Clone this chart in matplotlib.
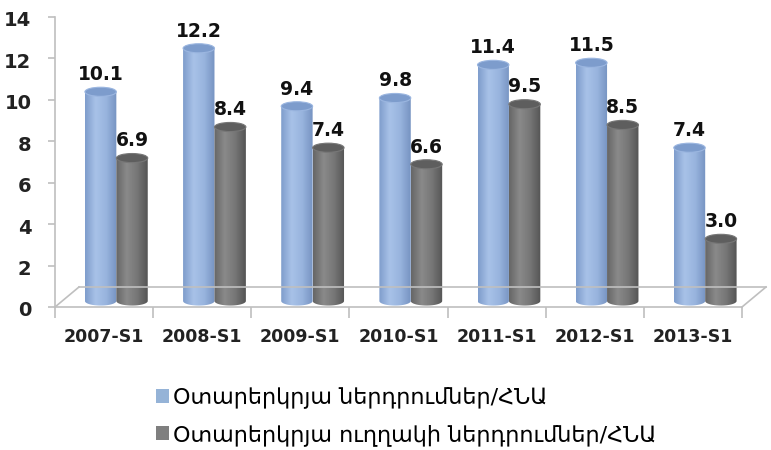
import numpy as np
import matplotlib.pyplot as plt
from matplotlib.colors import LinearSegmentedColormap
from matplotlib.patches import Ellipse, Polygon, Patch
from matplotlib.lines import Line2D
from matplotlib.transforms import ScaledTranslation

# data
periods = ['2007-S1', '2008-S1', '2009-S1', '2010-S1', '2011-S1', '2012-S1', '2013-S1']
fdi_total = [10.1, 12.2, 9.4, 9.8, 11.4, 11.5, 7.4]
fdi_direct = [6.9, 8.4, 7.4, 6.6, 9.5, 8.5, 3.0]
series_names = ['Օտարերկրյա ներդրումներ/ՀՆԱ', 'Օտարերկրյա ուղղակի ներդրումներ/ՀՆԱ']
yticks = [0, 2, 4, 6, 8, 10, 12, 14]

blue = '#95b3d7'
grey = '#7f7f7f'
blue_cmap = LinearSegmentedColormap.from_list('cyl_b', ['#7f9dcc', '#a8c2e8', '#98b4de', '#7794c2'])
grey_cmap = LinearSegmentedColormap.from_list('cyl_g', ['#666666', '#8a8a8a', '#767676', '#555555'])
line_col = '#bfbfbf'

fig = plt.figure(figsize=(7.71, 4.5), dpi=100)
ax = fig.add_axes([55/771, 143/450, 687/771, 290/450])
dpi_t = fig.dpi_scale_trans
# bars stand a little behind the front edge of the floor
lift = ScaledTranslation(0, 0.06, dpi_t)
bar_trans = ax.transData + lift

x = np.arange(len(periods))
w = 0.32
ry = 0.22  # half height of the cylinder caps, in data units

bars_b = ax.bar(x - 0.035, fdi_total, w, color=blue, zorder=2)
bars_g = ax.bar(x + 0.285, fdi_direct, w, color=grey, zorder=2)


def cylinders(rects, cmap, top, rim):
    grad = np.linspace(0, 1, 64)[None, :]
    for r in rects:
        x0, bw, h = r.get_x(), r.get_width(), r.get_height()
        xc = x0 + bw / 2
        t = np.linspace(np.pi, 2 * np.pi, 40)
        vx = np.concatenate([xc + bw / 2 * np.cos(t), [x0 + bw, x0]])
        vy = np.concatenate([ry * np.sin(t), [h, h]])
        outline = Polygon(np.column_stack([vx, vy]), closed=True, transform=bar_trans)
        im = ax.imshow(grad, cmap=cmap, extent=[x0, x0 + bw, -ry, h], aspect='auto',
                       interpolation='bicubic', zorder=3)
        im.set_transform(bar_trans)
        im.set_clip_path(outline)
        ax.add_patch(Ellipse((xc, h), bw, 2 * ry, facecolor=top, edgecolor=rim, lw=0.8,
                             zorder=4, transform=bar_trans))
        r.set_visible(False)
        ax.annotate(f'{h:.1f}', (xc, h + ry), xytext=(0, 9.5), textcoords='offset points',
                    ha='center', va='baseline', fontsize=13.5, fontweight='bold',
                    color='#111111', annotation_clip=False)


cylinders(bars_b, blue_cmap, '#7d9ccc', '#9bb6e0')
cylinders(bars_g, grey_cmap, '#5e5e5e', '#777777')

ax.set_xlim(-0.5, len(periods) - 0.5)
ax.set_ylim(0, 14)

# axes / floor
for s in ax.spines.values():
    s.set_visible(False)
for side in ['bottom', 'left']:
    ax.spines[side].set_visible(True)
    ax.spines[side].set_color(line_col)
    ax.spines[side].set_linewidth(1.2)


def off(dx, dy):
    return ax.transAxes + ScaledTranslation(dx / 100, dy / 100, dpi_t)


floor = [((0, 0), (0, 0), 0, 0, 24, 20),
         ((0, 1), (0, 0), 24, 20, 24, 20),
         ((1, 1), (0, 0), 0, 0, 24, 20)]
for xs, ys, dx0, dy0, dx1, dy1 in floor:
    p0 = off(dx0, dy0).transform((xs[0], ys[0]))
    p1 = off(dx1, dy1).transform((xs[1], ys[1]))
    fig.add_artist(Line2D([p0[0], p1[0]], [p0[1], p1[1]], color=line_col, lw=1.2,
                          transform=None))

ax.set_xticks(np.arange(len(periods) + 1) - 0.5)
ax.set_xticklabels([])
ax.set_xticks(x, periods, minor=True)
ax.tick_params(axis='x', which='major', length=8, color=line_col, width=1.2)
ax.tick_params(axis='x', which='minor', length=0, pad=15, labelsize=12.5)
for lbl in ax.get_xticklabels(minor=True):
    lbl.set_fontweight('bold')
    lbl.set_color('#222222')

ax.set_yticks(yticks)
ax.tick_params(axis='y', length=5, color=line_col, width=1.2, pad=12, labelsize=14)
for lbl in ax.get_yticklabels():
    lbl.set_fontweight('bold')
    lbl.set_color('#222222')
    lbl.set_transform(lbl.get_transform() + ScaledTranslation(0, -0.02, dpi_t))

handles = [Patch(facecolor=blue), Patch(facecolor=grey)]
fig.legend(handles, series_names, loc='upper left', bbox_to_anchor=(136/771, 1 - 367/450),
           frameon=False, fontsize=16, handlelength=0.6, handleheight=0.6,
           handletextpad=0.15, labelspacing=0.7)

fig.savefig('out.png', dpi=100)
